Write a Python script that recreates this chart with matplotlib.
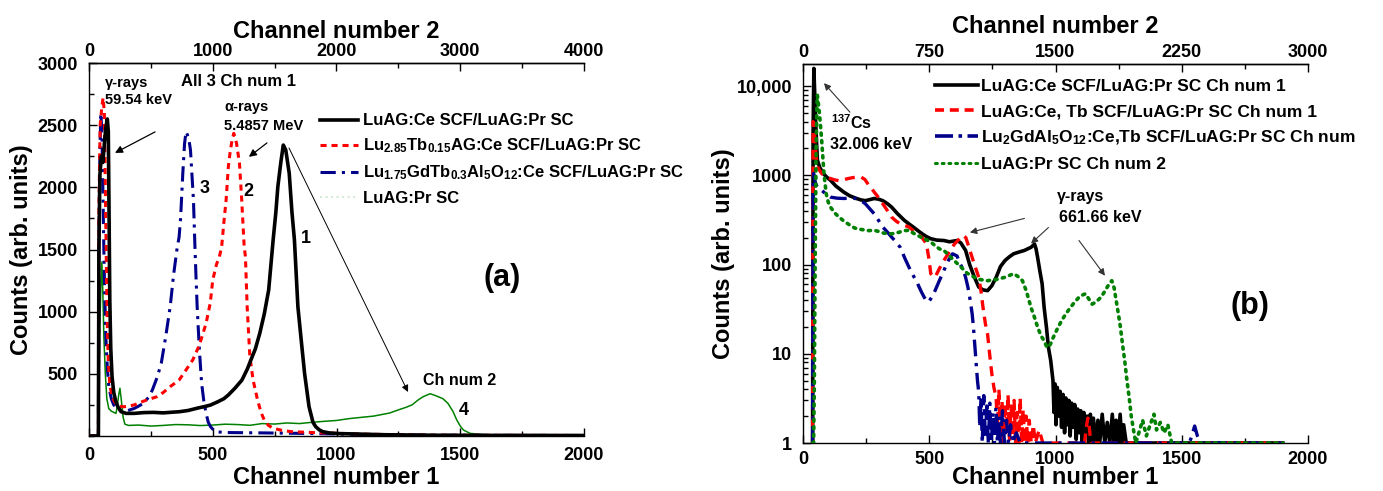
import matplotlib
matplotlib.use('Agg')
import matplotlib.pyplot as plt
from matplotlib.lines import Line2D
from matplotlib.ticker import MultipleLocator, FixedLocator, FixedFormatter, LogLocator, NullFormatter

plt.rcParams['font.family'] = ['Liberation Sans', 'DejaVu Sans']
plt.rcParams['font.weight'] = 'bold'
plt.rcParams['mathtext.fontset'] = 'custom'
plt.rcParams['mathtext.rm'] = 'Liberation Sans:bold'
plt.rcParams['mathtext.bf'] = 'Liberation Sans:bold'
plt.rcParams['mathtext.it'] = 'Liberation Sans:bold'
plt.rcParams['mathtext.default'] = 'bf'

# ---------------- Panel (a) data: channel number 1 vs counts ----------------
a_black_x = [0, 38, 40, 44, 50, 56, 62, 68, 74, 78, 81, 84, 88, 93, 100, 108, 118, 130, 150, 183, 220, 260, 300,
             340, 364, 400, 440, 470, 491, 520, 545, 563, 590, 618, 640, 654, 672, 690, 708, 726, 744, 755, 763,
             775, 785, 795, 809, 820, 830, 844, 858, 871, 889, 905, 916, 930, 944, 970, 1000, 1100, 1200, 1400,
             1600, 2000]
a_black_y = [0, 0, 1500, 2100, 2250, 2200, 2350, 2480, 2550, 2450, 1800, 1100, 700, 480, 350, 280, 230, 195, 182,
             182, 188, 190, 186, 192, 195, 205, 225, 238, 249, 275, 300, 330, 385, 450, 540, 611, 700, 826, 980, 1175,
             1577, 1800, 2005, 2200, 2340, 2300, 2113, 1800, 1577, 1040, 760, 504, 236, 110, 75, 50, 35, 25, 20, 15,
             10, 6, 5, 4]

a_red_x = [0, 38, 40, 45, 52, 57, 62, 66, 70, 74, 78, 84, 92, 105, 120, 140, 160, 183, 220, 250, 274, 300, 330,
           364, 395, 419, 446, 473, 490, 500, 515, 527, 536, 545, 554, 563, 570, 578, 585, 590, 596, 603, 608, 617,
           627, 632, 639, 645, 650, 663, 681, 695, 708, 725, 744, 780, 817, 900, 1000, 1100, 1200, 1400, 2000]
a_red_y = [0, 0, 1800, 2500, 2650, 2720, 2600, 2000, 1400, 900, 600, 420, 320, 270, 240, 235, 240, 250, 280, 300,
           316, 350, 400, 450, 540, 611, 731, 906, 1070, 1255, 1380, 1443, 1523, 1720, 1899, 2166, 2280, 2380, 2434,
           2400, 2355, 2260, 2193, 1899, 1523, 1443, 1040, 820, 638, 450, 290, 190, 129, 85, 62, 45, 35, 28, 22, 15,
           12, 6, 4]

a_blue_x = [0, 38, 40, 44, 48, 52, 56, 60, 64, 68, 74, 80, 90, 100, 115, 130, 150, 183, 200, 220, 240, 256, 275,
            292, 310, 328, 342, 355, 364, 370, 379, 386, 392, 398, 404, 410, 416, 422, 428, 432, 437, 446, 455, 464,
            473, 482, 491, 509, 550, 700, 900, 1100, 1400, 2000]
a_blue_y = [0, 0, 1500, 2300, 2596, 2450, 2000, 1500, 1100, 800, 550, 400, 300, 250, 215, 200, 200, 222, 240, 263,
            310, 370, 470, 585, 800, 1040, 1300, 1496, 1600, 1750, 2112, 2350, 2448, 2420, 2380, 2300, 2100, 1899,
            1523, 1300, 1040, 692, 424, 280, 182, 110, 75, 35, 28, 25, 20, 12, 6, 4]

a_green_x = [0, 38, 40, 44, 48, 52, 56, 60, 66, 72, 80, 90, 100, 109, 115, 120, 125, 130, 138, 145, 160, 200, 250,
             300, 350, 400, 450, 500, 550, 600, 650, 700, 750, 800, 850, 900, 950, 1000, 1052, 1100, 1150, 1215,
             1250, 1280, 1305, 1330, 1350, 1378, 1400, 1430, 1450, 1470, 1486, 1500, 1513, 1540, 1600, 2000]
a_green_y = [0, 0, 300, 900, 1200, 1400, 1150, 800, 500, 300, 220, 200, 190, 182, 250, 330, 384, 300, 150, 95, 85,
             88, 80, 85, 92, 90, 84, 88, 95, 92, 86, 100, 96, 105, 100, 110, 118, 125, 140, 150, 160, 185, 210, 230,
             250, 290, 316, 340, 325, 300, 263, 200, 129, 80, 48, 21, 10, 6]

# ---------------- Panel (b) data: channel number 1 vs counts (log) ----------------
b_black_x = [38, 40, 43, 46, 50, 57, 66, 80, 95, 109, 130, 161, 185, 212, 230, 247, 265, 282, 300, 316, 335, 351,
             375, 402, 420, 437, 455, 472, 490, 506, 530, 558, 580, 610, 625, 644, 660, 679, 696, 713, 731, 748,
             765, 782, 800, 817, 834, 855, 877, 890, 903, 917, 923, 929, 938, 947, 955, 964, 972, 981, 990, 994,
             998, 1002, 1007, 1012, 1018, 1024, 1030, 1036, 1041, 1047, 1053, 1058, 1064, 1070, 1076, 1082, 1088,
             1095, 1100, 1106, 1112, 1118, 1125, 1131, 1138, 1144, 1150, 1160, 1168, 1175, 1185, 1195, 1205, 1215,
             1225, 1232, 1240, 1248, 1256, 1263, 1270, 1280, 1900]
b_black_y = [1, 3000, 15800, 9000, 4000, 1480, 1230, 1050, 950, 880, 760, 650, 590, 550, 530, 520, 535, 550, 540,
             520, 480, 440, 370, 312, 285, 263, 240, 221, 205, 195, 188, 186, 180, 186, 175, 144, 100, 72, 56, 52, 51,
             58, 72, 95, 111, 122, 132, 138, 144, 150, 156, 170, 150, 121, 85, 61, 33, 20, 11.8, 8.4, 5, 2.2, 4.6,
             1.6, 4.2, 2.0, 3.8, 1.5, 3.5, 1.3, 3.2, 1.6, 3.0, 1.2, 2.8, 1.5, 2.7, 1.1, 2.4, 1.3, 2.3, 1.0, 2.2, 1.2,
             2.0, 1.0, 2.1, 1.0, 1.9, 1.0, 1.8, 1.0, 2.1, 1.0, 1.7, 1.0, 2.1, 1.0, 1.8, 1.0, 2.1, 1.0, 1.6, 1.0, 1.0]

b_red_x = [38, 40, 43, 47, 52, 60, 74, 90, 109, 125, 143, 160, 178, 195, 212, 230, 245, 256, 270, 282, 300, 316,
           335, 351, 370, 385, 402, 420, 437, 454, 472, 489, 500, 506, 515, 523, 540, 558, 580, 600, 620, 636, 645,
           653, 661, 679, 696, 705, 713, 722, 731, 739, 748, 756, 765, 770, 776, 782, 788, 794, 800, 806, 812, 818,
           824, 830, 836, 842, 848, 854, 860, 866, 872, 878, 884, 890, 896, 904, 912, 920, 935, 950, 1115, 1122,
           1128, 1134, 1140, 1900]
b_red_y = [1, 4000, 3800, 2500, 1600, 1200, 1050, 960, 920, 890, 870, 890, 920, 940, 955, 955, 900, 810, 720, 650,
           560, 480, 400, 340, 305, 286, 275, 263, 240, 221, 200, 170, 110, 79, 74, 72, 90, 111, 140, 170, 195, 212,
           200, 170, 144, 100, 72, 50, 33, 22, 16.6, 10, 5.9, 4.2, 3.2, 1.5, 4.0, 1.2, 3.0, 1.0, 2.8, 1.3, 3.5, 1.0,
           2.6, 1.2, 3.0, 1.0, 2.2, 1.0, 3.2, 1.0, 2.4, 1.0, 2.0, 1.0, 1.8, 1.0, 1.6, 1.0, 1.4, 1.0, 1.0, 1.5, 1.9,
           1.5, 1.0, 1.0]

b_blue_x = [38, 40, 42, 46, 52, 60, 74, 90, 109, 135, 161, 185, 212, 230, 247, 265, 282, 300, 316, 335, 351, 368,
            385, 402, 420, 437, 454, 468, 480, 490, 497, 510, 523, 540, 558, 575, 592, 610, 620, 636, 645, 653, 662,
            670, 675, 679, 683, 687, 691, 696, 700, 705, 710, 716, 722, 728, 734, 740, 746, 752, 758, 764, 770, 776,
            782, 790, 798, 806, 814, 822, 830, 845, 860, 1530, 1540, 1551, 1562, 1575, 1900]
b_blue_y = [1, 800, 1050, 900, 780, 720, 680, 620, 570, 555, 550, 555, 550, 520, 480, 420, 371, 310, 263, 230, 203,
            180, 156, 120, 93, 75, 61, 50, 43, 39, 38, 43, 51, 66, 86, 110, 132, 125, 105, 86, 70, 56, 40, 28, 20, 14,
            10, 7, 5, 3.7, 1.5, 3.2, 1.0, 3.4, 1.2, 2.6, 1.0, 2.8, 1.0, 2.2, 1.0, 2.5, 1.0, 2.0, 1.0, 2.3, 1.0, 1.8,
            1.0, 1.6, 1.0, 1.3, 1.0, 1.0, 1.2, 1.55, 1.2, 1.0, 1.0]

b_green_x = [38, 42, 45, 48, 52, 55, 57, 62, 68, 74, 83, 92, 100, 109, 125, 143, 160, 178, 195, 212, 240, 260, 282,
             300, 320, 351, 380, 400, 420, 437, 454, 480, 505, 523, 540, 558, 580, 600, 627, 650, 679, 700, 731, 765,
             800, 834, 850, 869, 885, 903, 916, 929, 942, 955, 965, 972, 981, 990, 1007, 1024, 1041, 1059, 1076,
             1093, 1110, 1119, 1130, 1145, 1160, 1180, 1195, 1205, 1215, 1223, 1232, 1240, 1249, 1257, 1265, 1274,
             1283, 1292, 1300, 1309, 1318, 1330, 1345, 1360, 1375, 1390, 1400, 1415, 1430, 1445, 1460, 1900]
b_green_y = [1, 1, 5, 100, 2000, 6000, 7900, 6000, 4000, 2460, 1050, 620, 500, 440, 380, 340, 310, 286, 265, 252,
             245, 240, 242, 235, 225, 221, 230, 240, 242, 225, 212, 195, 180, 163, 150, 144, 125, 110, 93, 80, 72, 68,
             66, 68, 72, 79, 74, 66, 50, 33, 26, 20, 16, 14, 12, 11.8, 13, 15, 19, 23.5, 28, 33, 38, 43, 46, 47, 42,
             36, 38, 43, 50, 56, 62, 66, 55, 40, 28, 20, 13, 8.4, 5, 3.2, 2, 1.4, 1, 1.3, 1.8, 1.2, 1.6, 2.1, 1.4,
             1.7, 1.3, 1.6, 1.0, 1.0]

legend_a = ['LuAG:Ce SCF/LuAG:Pr SC',
            r'Lu$_{2.85}$Tb$_{0.15}$AG:Ce SCF/LuAG:Pr SC',
            r'Lu$_{1.75}$GdTb$_{0.3}$Al$_{5}$O$_{12}$:Ce SCF/LuAG:Pr SC',
            'LuAG:Pr SC']
legend_b = ['LuAG:Ce SCF/LuAG:Pr SC Ch num 1',
            'LuAG:Ce, Tb SCF/LuAG:Pr SC Ch num 1',
            r'Lu$_{2}$GdAl$_{5}$O$_{12}$:Ce,Tb SCF/LuAG:Pr SC Ch num',
            'LuAG:Pr SC Ch num 2']

BLACK = '#000000'
RED = '#ff0000'
BLUE = '#00008b'
GREEN = '#008000'

fig = plt.figure(figsize=(13.83, 4.91), dpi=100)
W, H = 1383.0, 491.0
axA = fig.add_axes([89 / W, 55 / H, 495 / W, 373 / H])
axB = fig.add_axes([803 / W, 48 / H, 505 / W, 379 / H])

red_dash = (0, (2.0, 1.6))
blue_dd = (0, (5.0, 2.0, 1.0, 2.0))

# ---------------- Panel (a) ----------------
axA.plot(a_green_x, a_green_y, color=GREEN, lw=1.1, zorder=2)
axA.plot(a_blue_x, a_blue_y, color=BLUE, lw=2.2, ls=blue_dd, zorder=3)
axA.plot(a_red_x, a_red_y, color=RED, lw=2.2, ls=red_dash, zorder=4)
axA.plot(a_black_x, a_black_y, color=BLACK, lw=2.6, zorder=5)
axA.set_xlim(0, 2000)
axA.set_ylim(0, 3000)
axA.xaxis.set_major_locator(FixedLocator([0, 500, 1000, 1500, 2000]))
axA.xaxis.set_minor_locator(MultipleLocator(250))
axA.yaxis.set_major_locator(FixedLocator([500, 1000, 1500, 2000, 2500, 3000]))
axA.yaxis.set_minor_locator(MultipleLocator(250))

handles_a = [Line2D([], [], color=BLACK, lw=2.6),
             Line2D([], [], color=RED, lw=2.2, ls=red_dash),
             Line2D([], [], color=BLUE, lw=2.2, ls=blue_dd),
             Line2D([], [], color='#d5ead5', lw=1.5, ls=':')]
axA.legend(handles_a, legend_a, loc='upper left', bbox_to_anchor=(0.4667, 0.865), frameon=False,
           fontsize=12, handlelength=2.3, handletextpad=0.3, labelspacing=0.5, borderpad=0, borderaxespad=0)

secA = axA.secondary_xaxis('top', functions=(lambda x: 2 * x, lambda x: x / 2))
secA.xaxis.set_major_locator(FixedLocator([0, 1000, 2000, 3000, 4000]))
secA.xaxis.set_minor_locator(MultipleLocator(500))
secA.set_xlabel('Channel number 2', fontsize=17, fontweight='bold', labelpad=4)

# ---------------- Panel (b) ----------------
axB.plot(b_black_x, b_black_y, color=BLACK, lw=2.6, zorder=3)
axB.plot(b_red_x, b_red_y, color=RED, lw=2.4, ls=(0, (3, 2)), zorder=4)
axB.plot(b_blue_x, b_blue_y, color=BLUE, lw=2.4, ls=(0, (5, 2, 1, 2)), zorder=5)
axB.plot(b_green_x, b_green_y, color=GREEN, lw=2.6, ls=(0, (0.6, 1.5)), dash_capstyle='round', zorder=6)
axB.set_yscale('log')
axB.set_xlim(0, 2000)
axB.set_ylim(1, 17700)
axB.xaxis.set_major_locator(FixedLocator([0, 500, 1000, 1500, 2000]))
axB.xaxis.set_minor_locator(MultipleLocator(250))
axB.yaxis.set_major_locator(FixedLocator([1, 10, 100, 1000, 10000]))
axB.yaxis.set_major_formatter(FixedFormatter(['1', '10', '100', '1000', '10,000']))
axB.yaxis.set_minor_locator(LogLocator(base=10, subs=range(2, 10)))
axB.yaxis.set_minor_formatter(NullFormatter())

handles_b = [Line2D([], [], color=BLACK, lw=2.6),
             Line2D([], [], color=RED, lw=2.6, ls=(0, (2.5, 1.6))),
             Line2D([], [], color=BLUE, lw=2.6, ls=(0, (5, 1.5, 1, 1.5))),
             Line2D([], [], color=GREEN, lw=2.2, ls=(0, (0.6, 1.6)), dash_capstyle='round')]
axB.legend(handles_b, legend_b, loc='upper left', bbox_to_anchor=(0.2614, 0.96), frameon=False,
           fontsize=12.5, handlelength=2.5, handletextpad=0.15, labelspacing=0.55, borderpad=0, borderaxespad=0)

secB = axB.secondary_xaxis('top', functions=(lambda x: 1.5 * x, lambda x: x / 1.5))
secB.xaxis.set_major_locator(FixedLocator([0, 750, 1500, 2250, 3000]))
secB.xaxis.set_minor_locator(MultipleLocator(375))
secB.set_xlabel('Channel number 2', fontsize=17, fontweight='bold', labelpad=8)

for ax in (axA, axB):
    ax.spines['right'].set_visible(False)
    for s in ('left', 'bottom', 'top'):
        ax.spines[s].set_linewidth(1.0)
    ax.tick_params(which='both', direction='in', top=False, right=False, width=1.0)
    ax.tick_params(which='major', length=6, labelsize=13, pad=8)
    ax.tick_params(which='minor', length=3.5)
    ax.set_ylabel('Counts (arb. units)', fontsize=17, fontweight='bold', labelpad=3)
    for t in ax.get_xticklabels() + ax.get_yticklabels():
        t.set_fontweight('bold')
for sec in (secA, secB):
    sec.tick_params(which='both', direction='in', width=1.0)
    sec.tick_params(which='major', length=6, labelsize=13, pad=2)
    sec.tick_params(which='minor', length=3.5)
    sec.spines['top'].set_linewidth(1.0)

axA.set_xlabel('Channel number 1', fontsize=17, fontweight='bold', labelpad=1)
axB.tick_params(axis='x', which='major', pad=6)
axB.set_xlabel('Channel number 1', fontsize=17, fontweight='bold', labelpad=-2)
axB.yaxis.labelpad = 1

# ---------------- annotations (a) ----------------
arrow = dict(arrowstyle='-|>', color='black', lw=0.9, mutation_scale=11, shrinkA=0, shrinkB=0)
axA.text(65, 2840, 'γ-rays', fontsize=10.5, va='center', ha='left')
axA.text(65, 2703, '59.54 keV', fontsize=10.5, va='center', ha='left')
axA.annotate('', xy=(105, 2277), xytext=(267, 2446), arrowprops=arrow)
axA.text(372, 2848, 'All 3 Ch num 1', fontsize=12, va='center', ha='left')
axA.text(545, 2647, 'α-rays', fontsize=10.5, va='center', ha='left')
axA.text(545, 2494, '5.4857 MeV', fontsize=10.5, va='center', ha='left')
axA.annotate('', xy=(646, 2245), xytext=(719, 2357), arrowprops=arrow)
axA.annotate('', xy=(1289, 354), xytext=(808, 2317),
             arrowprops=dict(arrowstyle='-|>', color='black', lw=0.7, mutation_scale=10, shrinkA=0, shrinkB=0))
axA.text(1349, 450, 'Ch num 2', fontsize=11.5, va='center', ha='left')
axA.text(877, 1585, '1', fontsize=13, va='center', ha='center')
axA.text(645, 1965, '2', fontsize=13, va='center', ha='center')
axA.text(468, 1993, '3', fontsize=13, va='center', ha='center')
axA.text(1515, 209, '4', fontsize=13, va='center', ha='center')
axA.text(1668, 1269, '(a)', fontsize=22, va='center', ha='center')

# ---------------- annotations (b) ----------------
arrowb = dict(arrowstyle='-|>', color='#333333', lw=0.8, mutation_scale=10, shrinkA=0, shrinkB=0)
axB.annotate('', xy=(83, 10800), xytext=(186, 5100), arrowprops=arrowb)
axB.text(109, 3940, r'$^{137}$Cs', fontsize=11.5, va='center', ha='left')
axB.text(107, 2230, '32.006 keV', fontsize=11.5, va='center', ha='left')
axB.text(1006, 581, 'γ-rays', fontsize=11.5, va='center', ha='left')
axB.text(1014, 337, '661.66 keV', fontsize=11.5, va='center', ha='left')
axB.annotate('', xy=(661, 229), xytext=(877, 329), arrowprops=arrowb)
axB.annotate('', xy=(903, 172), xytext=(972, 260), arrowprops=arrowb)
axB.annotate('', xy=(1196, 75), xytext=(1093, 186), arrowprops=arrowb)
axB.text(1770, 34.6, '(b)', fontsize=22, va='center', ha='center')

fig.savefig('out.png', dpi=100)
